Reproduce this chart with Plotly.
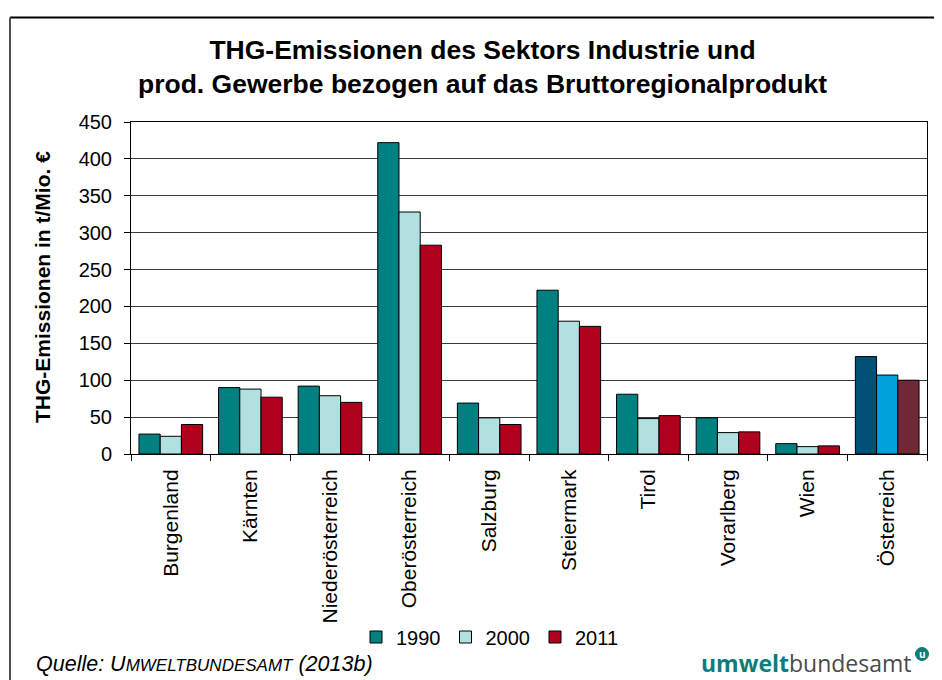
import plotly.graph_objects as go

categories = ["Burgenland", "Kärnten", "Niederösterreich", "Oberösterreich", "Salzburg",
              "Steiermark", "Tirol", "Vorarlberg", "Wien", "Österreich"]
years = ["1990", "2000", "2011"]
v1990 = [27, 90, 92, 422, 69, 222, 81, 49, 14, 132]
v2000 = [24, 88, 79, 328, 49, 180, 48, 29, 10, 107]
v2011 = [40, 77, 70, 283, 40, 173, 52, 30, 11, 100]
y_ticks = [0, 50, 100, 150, 200, 250, 300, 350, 400, 450]

base_colors = ["#008080", "#B0E0E0", "#B0001E"]
austria_colors = ["#005078", "#00A2DC", "#722837"]

FONT = "Liberation Sans, Arial, sans-serif"

# figure geometry (page has an 8px body margin)
W, H = 934, 672
ML, MR, MT, MB = 123, 15, 114, 226
PW, PH = W - ML - MR, H - MT - MB


def px(X):
    return (X - 8 - ML) / PW


def py(Y):
    return (H - (Y - 8) - MB) / PH


fig = go.Figure()
for vals, name, col, acol in zip([v1990, v2000, v2011], years, base_colors, austria_colors):
    colors = [col] * (len(categories) - 1) + [acol]
    fig.add_trace(go.Bar(
        x=categories, y=vals, name=name,
        marker=dict(color=colors, line=dict(color="#000000", width=1)),
    ))

fig.update_layout(
    width=W, height=H,
    paper_bgcolor="white", plot_bgcolor="white",
    margin=dict(l=ML, r=MR, t=MT, b=MB, autoexpand=False),
    barmode="group", bargap=0.2, bargroupgap=0,
    font=dict(family=FONT, size=20, color="#000000"),
    legend=dict(
        orientation="h", x=px(356), xanchor="left", y=py(637), yanchor="middle",
        font=dict(family=FONT, size=20), itemwidth=30,
        bgcolor="rgba(0,0,0,0)", tracegroupgap=0,
    ),
    showlegend=True,
)

fig.update_yaxes(
    range=[0, 450], tickvals=y_ticks, ticktext=[str(t) for t in y_ticks],
    showgrid=True, gridcolor="#3a3a3a", gridwidth=1,
    showline=True, linecolor="#000000", linewidth=1, mirror=True,
    ticks="outside", ticklen=6, tickcolor="#000000", ticklabelstandoff=8,
    tickfont=dict(family=FONT, size=20),
    zeroline=False,
)
fig.update_xaxes(
    showline=True, linecolor="#000000", linewidth=1, mirror=True,
    ticks="outside", ticklen=6, tickcolor="#000000", tickson="boundaries",
    tickangle=-90, tickfont=dict(family=FONT, size=21), ticklabelstandoff=6,
    showgrid=False,
)

# title
fig.add_annotation(
    xref="paper", yref="paper", x=px(482), y=py(67), xanchor="center", yanchor="middle",
    text="<b>THG-Emissionen des Sektors Industrie und<br>prod. Gewerbe bezogen auf das Bruttoregionalprodukt</b>",
    showarrow=False, font=dict(family=FONT, size=26.5, color="#000000"),
)
# y axis title
fig.add_annotation(
    xref="paper", yref="paper", x=px(42), y=py(287), xanchor="center", yanchor="middle",
    text="<b>THG-Emissionen in t/Mio. €</b>", textangle=-90,
    showarrow=False, font=dict(family=FONT, size=21, color="#000000"),
)

# frame lines
fig.add_shape(type="line", xref="paper", yref="paper", x0=px(10), x1=px(950), y0=py(17.5), y1=py(17.5),
              line=dict(color="#000000", width=2))
fig.add_shape(type="line", xref="paper", yref="paper", x0=px(10), x1=px(10), y0=py(17.5), y1=py(700),
              line=dict(color="#505050", width=2))

# source
fig.add_annotation(
    xref="paper", yref="paper", x=px(34), y=py(664), xanchor="left", yanchor="middle",
    text="<i>Quelle: U<span style='font-size:17px'>MWELTBUNDESAMT</span> (2013b)</i>",
    showarrow=False, font=dict(family=FONT, size=21.5, color="#000000"),
)
# logo
fig.add_annotation(
    xref="paper", yref="paper", x=px(914), y=py(663), xanchor="right", yanchor="middle",
    text="<b><span style='color:#0E7C77'>umwelt</span></b><span style='color:#4a4a4a'>bundesamt</span>",
    showarrow=False, font=dict(family="Open Sans, DejaVu Sans, sans-serif", size=23, color="#4a4a4a"),
)
fig.add_shape(type="circle", xref="paper", yref="paper",
              x0=px(915.5), x1=px(928.5), y0=py(647.5), y1=py(660.5),
              fillcolor="#0E7C77", line=dict(color="#0E7C77", width=1))
fig.add_annotation(
    xref="paper", yref="paper", x=px(922), y=py(654), xanchor="center", yanchor="middle",
    text="<b>u</b>", showarrow=False,
    font=dict(family="Open Sans, DejaVu Sans, sans-serif", size=10, color="#FFFFFF"),
)

fig.write_html("out.html")
